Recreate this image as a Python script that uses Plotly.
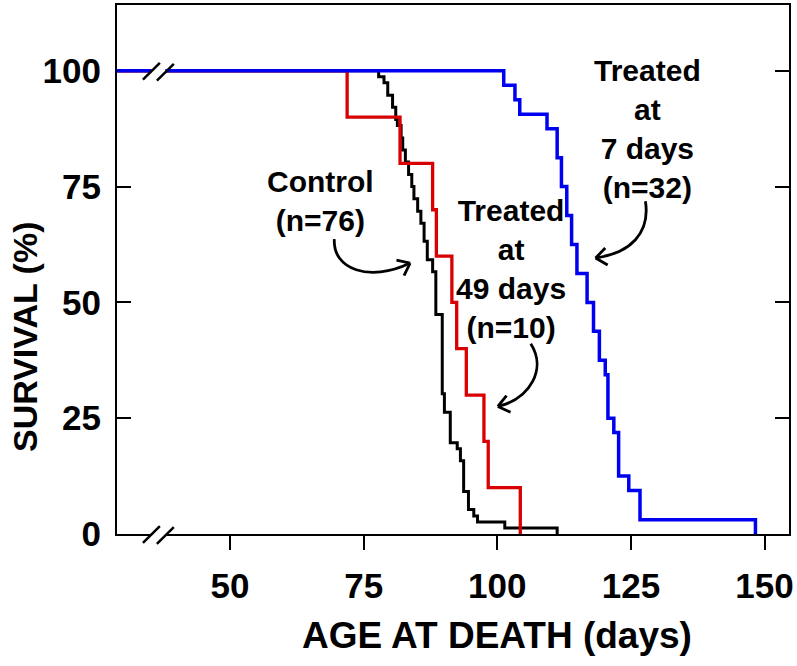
import math
import plotly.graph_objects as go

# ---------------- data ----------------
# Control (n=76): age at each visible step (days) and survival after it (%)
control_age = [77.8, 78.8, 79.5, 80.4, 81.0, 81.3, 82.0, 82.3, 82.8, 83.4,
               84.0, 84.4, 85.1, 85.7, 86.3, 86.9, 87.9, 88.5, 89.7, 90.1,
               91.2, 92.5, 93.1, 93.7, 94.6, 95.6, 96.3, 101.4, 111.2]
control_surv = [98.7, 97.4, 94.7, 92.1, 89.5, 88.2, 85.5, 82.9, 80.3, 77.6,
                75.0, 72.4, 69.7, 67.1, 63.2, 59.2, 56.6, 47.4, 30.3, 26.3,
                19.7, 18.4, 15.8, 9.2, 5.3, 3.9, 2.6, 1.3, 0.0]

# Treated at 49 days (n=10)
t49_age = [71.9, 81.8, 87.9, 88.6, 91.5, 92.4, 94.2, 97.5, 98.3, 104.3]
t49_surv = [90, 80, 70, 60, 50, 40, 30, 20, 10, 0]

# Treated at 7 days (n=32)
t7_age = [101.2, 103.3, 104.2, 109.3, 111.2, 112.0, 113.0, 113.9, 114.9, 116.8,
          118.0, 119.1, 120.2, 120.7, 121.8, 122.7, 124.6, 126.7, 148.3]
t7_surv = [96.9, 93.75, 90.6, 87.5, 81.25, 75.0, 68.75, 62.5, 56.25, 50.0,
           43.75, 37.5, 34.4, 25.0, 21.9, 12.5, 9.4, 3.1, 0.0]

x_ticks = [50, 75, 100, 125, 150]
y_ticks = [0, 25, 50, 75, 100]
START_SURV = 100

X_RANGE = [28.84, 154.58]
Y_RANGE = [0, 114.2]

# ---------------- layout geometry ----------------
W, H = 797, 666
L, R, T, B = 117, 791, 3, 534
FONT = "Liberation Sans, Arial, Helvetica, sans-serif"


def px(xp):
    return (xp - L) / (R - L)


def py(yp):
    return (B - yp) / (B - T)


fig = go.Figure()


def add_series(ages, survs, color, width):
    fig.add_trace(go.Scatter(
        x=[X_RANGE[0]] + list(ages),
        y=[START_SURV] + list(survs),
        mode="lines",
        line=dict(color=color, width=width, shape="hv"),
        hoverinfo="skip",
        showlegend=False,
    ))


add_series(control_age, control_surv, "#000000", 3)
add_series(t49_age, t49_surv, "#d80000", 3.3)
add_series(t7_age, t7_surv, "#0000f0", 3.5)

# invisible trace for the mirrored right axis ticks
fig.add_trace(go.Scatter(x=[X_RANGE[0]], y=[0], yaxis="y2", mode="markers",
                         marker=dict(opacity=0), hoverinfo="skip",
                         showlegend=False))

shapes = []
annotations = []

# axis break marks "//"
for yline in (69, 534):
    shapes.append(dict(type="rect", xref="paper", yref="paper",
                       x0=px(151.5), x1=px(165.5), y0=py(yline + 3),
                       y1=py(yline - 3), fillcolor="white",
                       line=dict(width=0), layer="above"))
    for (x0, dy0, x1, dy1) in [(143, 9, 160, -8), (157, 10, 174, -7)]:
        shapes.append(dict(type="line", xref="paper", yref="paper",
                           x0=px(x0), y0=py(yline + dy0), x1=px(x1),
                           y1=py(yline + dy1),
                           line=dict(color="black", width=2.5),
                           layer="above"))


def curved_arrow(p0, c1, c2, p1):
    path = "M {} {} C {} {}, {} {}, {} {}".format(
        px(p0[0]), py(p0[1]), px(c1[0]), py(c1[1]),
        px(c2[0]), py(c2[1]), px(p1[0]), py(p1[1]))
    shapes.append(dict(type="path", xref="paper", yref="paper", path=path,
                       line=dict(color="black", width=2.8), layer="above"))
    dx, dy = p1[0] - c2[0], p1[1] - c2[1]
    n = math.hypot(dx, dy)
    dx, dy = dx / n, dy / n
    hl = 14
    for ang in (math.radians(38), -math.radians(38)):
        bx = -(dx * math.cos(ang) - dy * math.sin(ang))
        by = -(dx * math.sin(ang) + dy * math.cos(ang))
        shapes.append(dict(type="line", xref="paper", yref="paper",
                           x0=px(p1[0]), y0=py(p1[1]),
                           x1=px(p1[0] + hl * bx), y1=py(p1[1] + hl * by),
                           line=dict(color="black", width=2.8),
                           layer="above"))


curved_arrow((335, 238), (333, 268), (370, 282), (411, 262))
curved_arrow((532, 343), (548, 368), (532, 398), (499, 406))
curved_arrow((647, 200), (652, 232), (632, 252), (597, 257))

lab_font = dict(family=FONT, size=30, color="black", weight="bold")


def label(text, xp, yp):
    annotations.append(dict(text=text, xref="paper", yref="paper",
                            x=px(xp), y=py(yp), xanchor="center",
                            yanchor="middle", showarrow=False,
                            font=lab_font, align="center"))


label("Control<br>(n=76)", 321, 200)
label("Treated<br>at<br>49 days<br>(n=10)", 512, 268)
label("Treated<br>at<br>7 days<br>(n=32)", 649, 127)

annotations.append(dict(text="AGE AT DEATH (days)", xref="paper",
                        yref="paper", x=px(498), y=py(636), xanchor="center",
                        yanchor="middle", showarrow=False,
                        font=dict(family=FONT, size=37, color="black",
                                  weight="bold")))
annotations.append(dict(text="SURVIVAL (%)", xref="paper", yref="paper",
                        x=px(24), y=py(336), xanchor="center",
                        yanchor="middle", showarrow=False, textangle=-90,
                        font=dict(family=FONT, size=34, color="black",
                                  weight="bold")))

tick_font = dict(family=FONT, size=35, color="black", weight="bold")

fig.update_layout(
    width=W, height=H,
    margin=dict(l=L, r=W - R, t=T, b=H - B, pad=0),
    paper_bgcolor="white", plot_bgcolor="white",
    showlegend=False,
    shapes=shapes, annotations=annotations,
    xaxis=dict(range=X_RANGE, tickvals=x_ticks, ticktext=[str(v) for v in x_ticks],
               ticks="outside", ticklen=14, tickwidth=2.2, tickcolor="black",
               showline=True, linecolor="black", linewidth=2.2, mirror=True,
               showgrid=False, zeroline=False, tickfont=tick_font,
               ticklabelstandoff=6, fixedrange=True, layer="below traces"),
    yaxis=dict(range=Y_RANGE, tickvals=y_ticks, ticktext=[str(v) for v in y_ticks],
               ticks="inside", ticklen=14, tickwidth=2.2, tickcolor="black",
               showline=True, linecolor="black", linewidth=2.2, mirror=True,
               showgrid=False, zeroline=False, tickfont=tick_font,
               ticklabelstandoff=7, fixedrange=True, layer="below traces"),
    yaxis2=dict(range=Y_RANGE, tickvals=y_ticks, overlaying="y", side="right",
                ticks="inside", ticklen=14, tickwidth=2.2, tickcolor="black",
                showticklabels=False, showline=False, showgrid=False,
                zeroline=False, fixedrange=True, layer="below traces"),
)

fig.write_html(
    "out.html",
    config={"displayModeBar": False},
    post_script="document.body.style.margin='0px';"
                "document.body.style.overflow='hidden';",
)
